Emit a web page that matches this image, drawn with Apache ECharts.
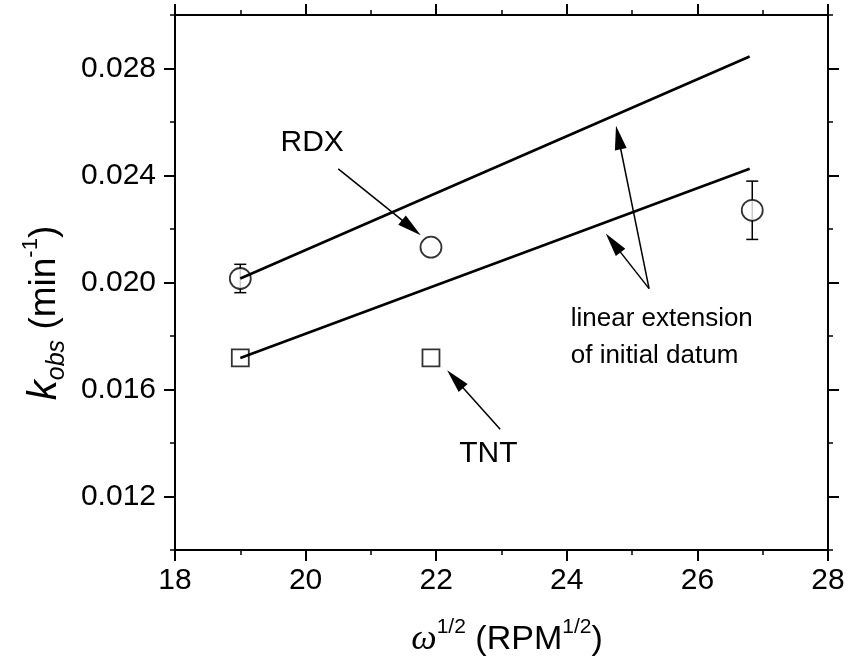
<!DOCTYPE html>
<html><head><meta charset="utf-8">
<script src="https://cdn.jsdelivr.net/npm/echarts@6/dist/echarts.min.js"></script>
<style>html,body{margin:0;padding:0;background:#fff}#c{width:849px;height:669px}</style>
</head><body><div id="c"></div>
<script>
// ---- data ----
const xMin = 18, xMax = 28, xStep = 2;
const yMin = 0.010, yMax = 0.030, yStep = 0.002;
const yTickValues = ['0.010','0.012','0.014','0.016','0.018','0.020','0.022','0.024','0.026','0.028','0.030'];
const yTickLabels = ['0.012','0.016','0.020','0.024','0.028'];

const rdxX = [19.0, 21.92, 26.84];
const rdxK = [0.02015, 0.02132, 0.0227];
const rdxErr = [0.00053, 0, 0.00109];

const tntX = [19.0, 21.92];
const tntK = [0.01718, 0.01718];

const fitX = [19.0, 26.8];
const rdxFit = [0.02015, 0.02845];
const tntFit = [0.01718, 0.02425];

// annotation texts (anchored in data coordinates)
const noteText = ['RDX', 'TNT', 'linear extension', 'of initial datum'];
const noteX = [20.10, 22.80, 24.06, 24.06];
const noteY = [0.02523, 0.01361, 0.01865, 0.01726];
const noteAlign = ['center', 'center', 'left', 'left'];
const noteSize = [30, 30, 26, 26];

// arrows: from -> to (arrow-head centre)
const arrowFromX = [20.50, 22.98, 25.26, 25.26];
const arrowFromY = [0.02425, 0.01451, 0.01977, 0.01977];
const arrowToX = [21.62, 22.29, 24.71, 24.79];
const arrowToY = [0.02205, 0.01639, 0.02148, 0.02542];

const FONT = "'Liberation Sans', Arial, Helvetica, sans-serif";
const BLACK = '#000';

const chart = echarts.init(document.getElementById('c'), null, {renderer: 'canvas'});

const axisLineStyle = {show: true, lineStyle: {color: BLACK, width: 2}};
const majorTick = {show: true, inside: false, length: 11, lineStyle: {color: BLACK, width: 2}};
const minorTickY = {show: true, inside: false, length: 5, lineStyle: {color: BLACK, width: 1.5}};

function xAxisDef(pos, showLabel) {
  return {
    type: 'value', position: pos, min: xMin, max: xMax, interval: xStep,
    axisLine: axisLineStyle, axisTick: majorTick,
    minorTick: {show: true, splitNumber: 2, length: 5, lineStyle: {color: BLACK, width: 1.5}},
    splitLine: {show: false}, minorSplitLine: {show: false},
    axisLabel: {show: showLabel, fontSize: 30, color: BLACK, fontFamily: FONT, margin: 16}
  };
}
function yValueAxis(pos) {
  return {
    type: 'value', position: pos, min: yMin, max: yMax, interval: yStep,
    axisLine: axisLineStyle, axisTick: minorTickY,
    splitLine: {show: false}, axisLabel: {show: false}
  };
}
function yMajorAxis(pos, showLabel) {
  return {
    type: 'category', position: pos, data: yTickValues, boundaryGap: false,
    axisLine: {show: false},
    axisTick: {show: true, inside: false, length: 11, lineStyle: {color: BLACK, width: 2},
      interval: (i, v) => yTickLabels.indexOf(yTickValues[i]) >= 0},
    splitLine: {show: false},
    axisLabel: {show: showLabel, fontSize: 30, color: BLACK, fontFamily: FONT, margin: 19,
      interval: (i, v) => yTickLabels.indexOf(v) >= 0}
  };
}

const errData = [];
rdxX.forEach((x, i) => { if (rdxErr[i] > 0) errData.push([x, rdxK[i] - rdxErr[i], rdxK[i] + rdxErr[i]]); });

const arrowData = arrowFromX.map((fx, i) => [
  {coord: [fx, arrowFromY[i]], symbol: 'none'},
  {coord: [arrowToX[i], arrowToY[i]], symbol: 'triangle', symbolSize: [12, 24]}
]);

chart.setOption({
  animation: false,
  backgroundColor: '#fff',
  grid: {left: 175, right: 21, top: 15, bottom: 119, containLabel: false, outerBoundsMode: 'none'},
  xAxis: [xAxisDef('bottom', true), xAxisDef('top', false)],
  yAxis: [yValueAxis('left'), yValueAxis('right'), yMajorAxis('left', true), yMajorAxis('right', false)],
  series: [
    {
      type: 'custom', name: 'err', xAxisIndex: 0, yAxisIndex: 0, z: 1,
      data: errData,
      renderItem: (params, api) => {
        const x = api.value(0);
        const p1 = api.coord([x, api.value(1)]);
        const p2 = api.coord([x, api.value(2)]);
        const w = 6;
        const st = {stroke: BLACK, lineWidth: 1.5};
        return {type: 'group', children: [
          {type: 'line', shape: {x1: p1[0], y1: p1[1], x2: p2[0], y2: p2[1]}, style: st},
          {type: 'line', shape: {x1: p1[0] - w, y1: p1[1], x2: p1[0] + w, y2: p1[1]}, style: st},
          {type: 'line', shape: {x1: p2[0] - w, y1: p2[1], x2: p2[0] + w, y2: p2[1]}, style: st}
        ]};
      }
    },
    {
      type: 'scatter', name: 'RDX', z: 2, symbol: 'circle', symbolSize: 21,
      itemStyle: {color: '#fff', borderColor: BLACK, borderWidth: 1.8},
      data: rdxX.map((x, i) => [x, rdxK[i]])
    },
    {
      type: 'scatter', name: 'TNT', z: 2, symbol: 'rect', symbolSize: 17,
      itemStyle: {color: '#fff', borderColor: BLACK, borderWidth: 1.8},
      data: tntX.map((x, i) => [x, tntK[i]])
    },
    {
      type: 'line', name: 'RDX fit', z: 3, symbol: 'none', silent: true,
      lineStyle: {color: BLACK, width: 2.6},
      data: fitX.map((x, i) => [x, rdxFit[i]])
    },
    {
      type: 'line', name: 'TNT fit', z: 3, symbol: 'none', silent: true,
      lineStyle: {color: BLACK, width: 2.6},
      data: fitX.map((x, i) => [x, tntFit[i]]),
      markLine: {
        silent: true, animation: false,
        lineStyle: {color: BLACK, width: 1.5, type: 'solid'},
        itemStyle: {color: BLACK},
        label: {show: false},
        data: arrowData
      }
    }
  ]
});

const graphics = noteText.map((t, i) => {
  const p = chart.convertToPixel({xAxisIndex: 0, yAxisIndex: 0}, [noteX[i], noteY[i]]);
  return {
    type: 'text', x: p[0], y: p[1], z: 10,
    style: {text: t, fill: BLACK, font: noteSize[i] + "px " + FONT, align: noteAlign[i], verticalAlign: 'middle'}
  };
});

graphics.push({
  type: 'text', x: 507, y: 640, z: 10,
  style: {
    text: '{w|ω}{sup|1/2} (RPM{sup|1/2})',
    fill: BLACK, fontSize: 34, fontFamily: FONT, lineHeight: 46,
    align: 'center', verticalAlign: 'middle',
    rich: {
      w: {fontSize: 36, fontStyle: 'italic', fontFamily: "'Liberation Serif', 'Times New Roman', serif", lineHeight: 46, fill: BLACK},
      sup: {fontSize: 21, fontFamily: FONT, verticalAlign: 'top', lineHeight: 21, fill: BLACK}
    }
  }
});
graphics.push({
  type: 'text', x: 45, y: 313, z: 10, rotation: Math.PI / 2,
  style: {
    text: '{k|k}{sub|obs} (min{sup|-1})',
    fill: BLACK, fontSize: 37, fontFamily: FONT, lineHeight: 50,
    align: 'center', verticalAlign: 'middle',
    rich: {
      k: {fontSize: 40, fontStyle: 'italic', fontFamily: FONT, lineHeight: 50, fill: BLACK},
      sub: {fontSize: 25, fontStyle: 'italic', fontFamily: FONT, verticalAlign: 'bottom', lineHeight: 30, fill: BLACK},
      sup: {fontSize: 22, fontFamily: FONT, verticalAlign: 'top', lineHeight: 22, fill: BLACK}
    }
  }
});
chart.setOption({graphic: graphics});
</script>
</body></html>
